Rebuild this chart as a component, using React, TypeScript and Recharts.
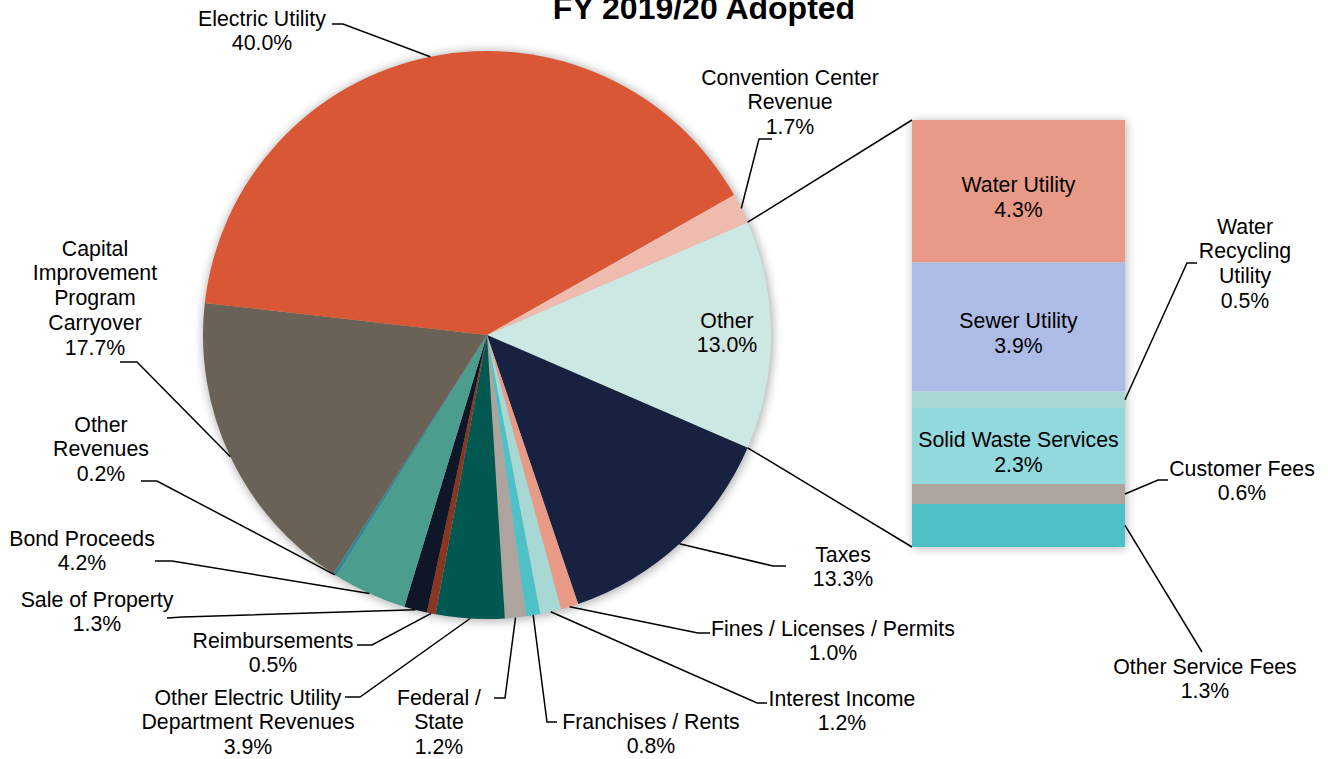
import React from "react"
import { PieChart, Pie, Cell, BarChart, Bar, XAxis, YAxis, LabelList } from "recharts"

// ---- data ----
const pieNames = [
  "Other",
  "Taxes",
  "Fines / Licenses / Permits",
  "Interest Income",
  "Franchises / Rents",
  "Federal / State",
  "Other Electric Utility Department Revenues",
  "Reimbursements",
  "Sale of Property",
  "Bond Proceeds",
  "Other Revenues",
  "Capital Improvement Program Carryover",
  "Electric Utility",
  "Convention Center Revenue",
]
const pieValues = [13.0, 13.3, 1.0, 1.2, 0.8, 1.2, 3.9, 0.5, 1.3, 4.2, 0.2, 17.7, 40.0, 1.7]
const pieColors = [
  "#CDE7E2",
  "#162240",
  "#E89A87",
  "#A8D8D3",
  "#4DC0C8",
  "#ADA59D",
  "#005850",
  "#8A3520",
  "#0F1628",
  "#4B9E8D",
  "#2E8A9A",
  "#6B6257",
  "#D95735",
  "#F0BBAF",
]

// bottom -> top of the stacked bar
const barNames = [
  "Other Service Fees",
  "Customer Fees",
  "Solid Waste Services",
  "Water Recycling Utility",
  "Sewer Utility",
  "Water Utility",
]
const barValues = [1.3, 0.6, 2.3, 0.5, 3.9, 4.3]
const barColors = ["#4DC0C8", "#ADA59D", "#92D9DE", "#A8D8D3", "#ADBCE6", "#E89A87"]

const title = "FY 2019/20 Adopted"

// ---- layout ----
const W = 1328
const H = 759
const PIE_CX = 487
const PIE_CY = 335
const PIE_R = 284
const BAR_LEFT = 912
const BAR_RIGHT = 1125
const BAR_TOP = 120
const BAR_BOTTOM = 547
const FONT = "'Liberation Sans', Arial, Helvetica, sans-serif"
const FONT_SIZE = 21.3
const LINE_H = 24.75
const RAD = Math.PI / 180
const NO_MARGIN = { top: 0, right: 0, bottom: 0, left: 0 }

type Layout = { x?: number; y?: number; lines: string[]; leader?: number[][] }

const pieLabelLayout: Record<string, Layout> = {
  "Other": { x: 727, y: 320, lines: ["Other"] },
  "Taxes": { x: 843, y: 554, lines: ["Taxes"], leader: [[773, 566], [786, 566]] },
  "Fines / Licenses / Permits": {
    x: 833, y: 628, lines: ["Fines / Licenses / Permits"], leader: [[698, 633], [710, 633]],
  },
  "Interest Income": { x: 842, y: 698, lines: ["Interest Income"], leader: [[757, 703], [767, 703]] },
  "Franchises / Rents": {
    x: 651, y: 721, lines: ["Franchises / Rents"], leader: [[547, 722], [557, 722]],
  },
  "Federal / State": {
    x: 439, y: 697, lines: ["Federal /", "State"], leader: [[505, 698], [494, 698]],
  },
  "Other Electric Utility Department Revenues": {
    x: 248, y: 697, lines: ["Other Electric Utility", "Department Revenues"], leader: [[360, 697], [345, 697]],
  },
  "Reimbursements": { x: 273, y: 640, lines: ["Reimbursements"], leader: [[372, 645], [357, 645]] },
  "Sale of Property": { x: 97, y: 599, lines: ["Sale of Property"], leader: [[183, 617], [167, 618]] },
  "Bond Proceeds": { x: 82, y: 538, lines: ["Bond Proceeds"], leader: [[172, 561], [155, 561]] },
  "Other Revenues": { x: 101, y: 424, lines: ["Other", "Revenues"], leader: [[157, 481], [141, 481]] },
  "Capital Improvement Program Carryover": {
    x: 95, y: 248, lines: ["Capital", "Improvement", "Program", "Carryover"], leader: [[137, 362], [120, 362]],
  },
  "Electric Utility": { x: 262, y: 18, lines: ["Electric Utility"], leader: [[343, 24], [332, 24]] },
  "Convention Center Revenue": {
    x: 790, y: 77, lines: ["Convention Center", "Revenue"], leader: [[759, 139], [772, 139]],
  },
}

const barLabelLayout: Record<string, Layout> = {
  "Water Utility": { lines: ["Water Utility"] },
  "Sewer Utility": { lines: ["Sewer Utility"] },
  "Solid Waste Services": { lines: ["Solid Waste Services"] },
  "Water Recycling Utility": {
    x: 1245, y: 226, lines: ["Water", "Recycling", "Utility"], leader: [[1187, 263], [1197, 263]],
  },
  "Customer Fees": { x: 1242, y: 468, lines: ["Customer Fees"], leader: [[1158, 480], [1168, 480]] },
  "Other Service Fees": { x: 1205, y: 666, lines: ["Other Service Fees"], leader: [[1202, 652]] },
}

const pct = (v: number) => `${v.toFixed(1)}%`

function LabelText({ x, y, lines }: { x: number; y: number; lines: string[] }) {
  return (
    <text x={x} textAnchor="middle" fontFamily={FONT} fontSize={FONT_SIZE} fill="#000">
      {lines.map((l, i) => (
        <tspan key={i} x={x} y={y + 7.5 + i * LINE_H}>
          {l}
        </tspan>
      ))}
    </text>
  )
}

function leaderPath(sx: number, sy: number, pts: number[][]) {
  return `M${sx},${sy}` + pts.map((p) => `L${p[0]},${p[1]}`).join("")
}

const pieTotal = pieValues.reduce((a, b) => a + b, 0)
const barTotal = barValues.reduce((a, b) => a + b, 0)
// "Other" slice is centred on the right, slices run clockwise
const startAngle = ((pieValues[0] / pieTotal) * 360) / 2

const pieData = pieNames.map((name, i) => ({ name, value: pieValues[i] }))
const barRow: Record<string, any> = { cat: "Other" }
barNames.forEach((n, i) => (barRow[n] = barValues[i]))
const barData = [barRow]

const renderPieLabel = (props: any) => {
  const { cx, cy, midAngle, outerRadius, name, value, index } = props
  const lay = pieLabelLayout[name]
  if (!lay) return null
  const sx = cx + outerRadius * Math.cos(-midAngle * RAD)
  const sy = cy + outerRadius * Math.sin(-midAngle * RAD)
  const lines = [...lay.lines, pct(value)]
  let connectors = null
  if (index === 0) {
    const half = ((value / pieTotal) * 360) / 2
    const a1 = midAngle + half
    const a2 = midAngle - half
    const x1 = cx + outerRadius * Math.cos(-a1 * RAD)
    const y1 = cy + outerRadius * Math.sin(-a1 * RAD)
    const x2 = cx + outerRadius * Math.cos(-a2 * RAD)
    const y2 = cy + outerRadius * Math.sin(-a2 * RAD)
    connectors = (
      <g stroke="#000" strokeWidth={1.5}>
        <line x1={x1} y1={y1} x2={BAR_LEFT} y2={BAR_TOP} />
        <line x1={x2} y1={y2} x2={BAR_LEFT} y2={BAR_BOTTOM} />
      </g>
    )
  }
  return (
    <g key={`pl-${index}`}>
      {connectors}
      {lay.leader && (
        <path d={leaderPath(sx, sy, lay.leader)} fill="none" stroke="#000" strokeWidth={1.5} />
      )}
      <LabelText x={lay.x!} y={lay.y!} lines={lines} />
    </g>
  )
}

const makeBarLabel = (name: string) => (props: any) => {
  const x = props.x ?? props.viewBox?.x
  const y = props.y ?? props.viewBox?.y
  const width = props.width ?? props.viewBox?.width
  const height = props.height ?? props.viewBox?.height
  const value = Number(props.value)
  const lay = barLabelLayout[name]
  const lines = [...lay.lines, pct(value)]
  if (!lay.leader) {
    const cyy = y + height / 2
    return <LabelText x={x + width / 2} y={cyy - 6.5} lines={lines} />
  }
  const sx = x + width
  const sy = y + height / 2
  return (
    <g>
      <path d={leaderPath(sx, sy, lay.leader)} fill="none" stroke="#000" strokeWidth={1.5} />
      <LabelText x={lay.x!} y={lay.y!} lines={lines} />
    </g>
  )
}

export default function App() {
  return (
    <div style={{ position: "relative", width: W, height: H, background: "#fff", overflow: "hidden" }}>
      <style>{"body{margin:0}"}</style>
      {/* soft shadow under the pie */}
      <div style={{ position: "absolute", left: 0, top: 0, filter: "blur(5px)", opacity: 0.3 }}>
        <PieChart width={W} height={H} margin={NO_MARGIN}>
          <Pie
            data={pieData}
            dataKey="value"
            cx={PIE_CX + 1}
            cy={PIE_CY + 1}
            outerRadius={PIE_R + 1}
            startAngle={startAngle}
            endAngle={startAngle - 360}
            fill="#000"
            stroke="#000"
            isAnimationActive={false}
          />
        </PieChart>
      </div>
      {/* soft shadow under the bar */}
      <div
        style={{
          position: "absolute",
          left: BAR_LEFT,
          top: BAR_TOP,
          width: BAR_RIGHT - BAR_LEFT,
          height: BAR_BOTTOM - BAR_TOP,
          boxShadow: "1px 1px 9px rgba(0,0,0,0.3)",
        }}
      />
      <div
        style={{
          position: "absolute",
          left: 0,
          width: 1408,
          top: -8,
          textAlign: "center",
          fontFamily: FONT,
          fontWeight: "bold",
          fontSize: 32,
          lineHeight: "32px",
          color: "#000",
        }}
      >
        {title}
      </div>
      <div style={{ position: "absolute", left: 0, top: 0 }}>
        <PieChart width={W} height={H} margin={NO_MARGIN}>
          <Pie
            data={pieData}
            dataKey="value"
            nameKey="name"
            cx={PIE_CX}
            cy={PIE_CY}
            outerRadius={PIE_R}
            startAngle={startAngle}
            endAngle={startAngle - 360}
            stroke="none"
            label={renderPieLabel}
            labelLine={false}
            isAnimationActive={false}
          >
            {pieData.map((d, i) => (
              <Cell key={d.name} fill={pieColors[i]} />
            ))}
          </Pie>
        </PieChart>
      </div>
      <div style={{ position: "absolute", left: 0, top: 0 }}>
        <BarChart
          width={W}
          height={H}
          data={barData}
          margin={{ top: BAR_TOP, right: W - BAR_RIGHT, bottom: H - BAR_BOTTOM, left: BAR_LEFT }}
          barCategoryGap={0}
        >
          <XAxis dataKey="cat" hide />
          <YAxis type="number" domain={[0, barTotal]} hide />
          {barNames.map((n, i) => (
            <Bar key={n} dataKey={n} stackId="a" fill={barColors[i]} isAnimationActive={false}>
              <LabelList dataKey={n} content={makeBarLabel(n)} />
            </Bar>
          ))}
        </BarChart>
      </div>
    </div>
  )
}
